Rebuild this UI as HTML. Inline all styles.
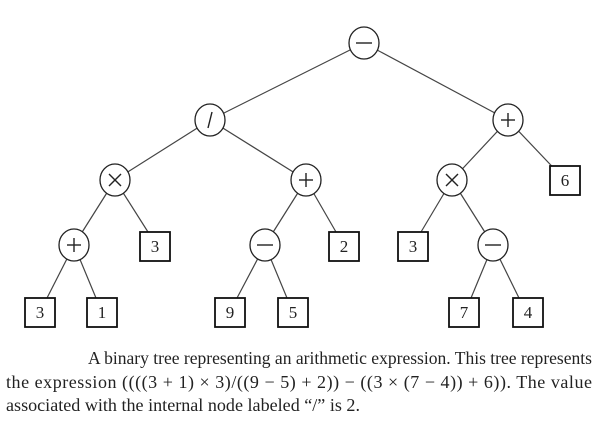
<!DOCTYPE html>
<html><head><meta charset="utf-8"><style>
html,body{margin:0;padding:0;background:#fff;}
body{width:600px;height:433px;position:relative;overflow:hidden;}
svg{position:absolute;left:0;top:0;}
</style></head><body>
<svg width="600" height="433" viewBox="0 0 600 433" font-family="Liberation Serif, serif" font-size="17">
<g stroke="#444" stroke-width="1.2">
<line x1="364" y1="43" x2="210" y2="120"/><line x1="364" y1="43" x2="508" y2="120"/>
<line x1="210" y1="120" x2="115" y2="180"/><line x1="210" y1="120" x2="306" y2="180"/>
<line x1="508" y1="120" x2="452" y2="180"/><line x1="508" y1="120" x2="565" y2="180"/>
<line x1="115" y1="180" x2="74" y2="245"/><line x1="115" y1="180" x2="148" y2="232"/>
<line x1="306" y1="180" x2="265" y2="245"/><line x1="306" y1="180" x2="336" y2="232"/>
<line x1="452" y1="180" x2="421" y2="232"/><line x1="452" y1="180" x2="493" y2="245"/>
<line x1="74" y1="245" x2="47" y2="298"/><line x1="74" y1="245" x2="96" y2="298"/>
<line x1="265" y1="245" x2="237" y2="298"/><line x1="265" y1="245" x2="287" y2="298"/>
<line x1="493" y1="245" x2="471" y2="298"/><line x1="493" y1="245" x2="519" y2="298"/>
</g>
<g fill="#fff" stroke="#222" stroke-width="1.3">
<ellipse cx="364" cy="43" rx="15" ry="16"/><ellipse cx="210" cy="120" rx="15" ry="16"/><ellipse cx="508" cy="120" rx="15" ry="16"/>
<ellipse cx="115" cy="180" rx="15" ry="16"/><ellipse cx="306" cy="180" rx="15" ry="16"/><ellipse cx="452" cy="180" rx="15" ry="16"/>
<ellipse cx="74" cy="245" rx="15" ry="16"/><ellipse cx="265" cy="245" rx="15" ry="16"/><ellipse cx="493" cy="245" rx="15" ry="16"/>
</g>
<g fill="#fff" stroke="#111" stroke-width="1.8">
<rect x="550" y="166" width="30" height="29"/>
<rect x="140" y="232" width="30" height="29"/><rect x="329" y="232" width="30" height="29"/><rect x="398" y="232" width="30" height="29"/>
<rect x="25" y="298" width="30" height="29"/><rect x="87" y="298" width="30" height="29"/><rect x="215" y="298" width="30" height="29"/>
<rect x="278" y="298" width="30" height="29"/><rect x="449" y="298" width="30" height="29"/><rect x="513" y="298" width="30" height="29"/>
</g>
<g stroke="#222" stroke-width="1.4">
<line x1="356" y1="43" x2="372" y2="43"/>
<line x1="212" y1="112" x2="208" y2="128"/>
<line x1="501" y1="120" x2="515" y2="120"/><line x1="508" y1="113" x2="508" y2="127"/>
<line x1="109" y1="174" x2="121" y2="186"/><line x1="121" y1="174" x2="109" y2="186"/>
<line x1="299" y1="180" x2="313" y2="180"/><line x1="306" y1="173" x2="306" y2="187"/>
<line x1="446" y1="174" x2="458" y2="186"/><line x1="458" y1="174" x2="446" y2="186"/>
<line x1="67" y1="245" x2="81" y2="245"/><line x1="74" y1="238" x2="74" y2="252"/>
<line x1="257" y1="245" x2="273" y2="245"/><line x1="485" y1="245" x2="501" y2="245"/>
</g>
<g fill="#222" text-anchor="middle">
<text x="565" y="186">6</text><text x="155" y="252">3</text><text x="344" y="252">2</text><text x="413" y="252">3</text>
<text x="40" y="318">3</text><text x="102" y="318">1</text><text x="230" y="318">9</text><text x="293" y="318">5</text><text x="464" y="318">7</text><text x="528" y="318">4</text>
</g>
<g fill="#222" font-size="18">
<text x="88" y="364" textLength="504" lengthAdjust="spacingAndGlyphs">A binary tree representing an arithmetic expression. This tree represents</text>
<text x="6" y="388" textLength="586" lengthAdjust="spacing">the expression ((((3 + 1) × 3)/((9 − 5) + 2)) − ((3 × (7 − 4)) + 6)).  The value</text>
<text x="6" y="411" textLength="354" lengthAdjust="spacingAndGlyphs">associated with the internal node labeled “/” is 2.</text>
</g>
</svg>
</body></html>
